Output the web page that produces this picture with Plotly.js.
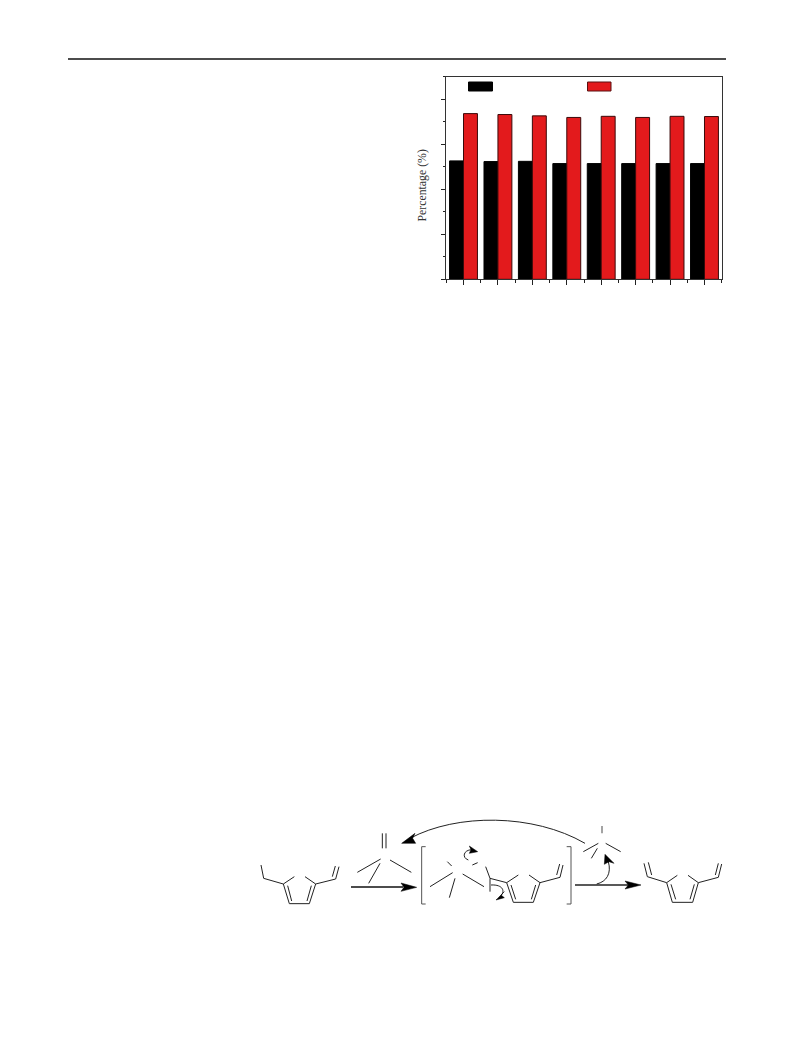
<!DOCTYPE html>
<html>
<head>
<meta charset="utf-8">
<script src="https://cdn.plot.ly/plotly-3.0.1.min.js"></script>
<style>html,body{margin:0;padding:0;background:#fff}</style>
</head>
<body>
<div id="chart" style="width:793px;height:1053px"></div>
<script>
const categories = [1, 2, 3, 4, 5, 6, 7, 8];
const blackValues = [52.6, 52.3, 52.4, 51.4, 51.4, 51.4, 51.4, 51.4];
const redValues = [73.6, 73.2, 72.6, 71.9, 72.4, 71.9, 72.4, 72.3];
const minorCategoryTicks = [0.5, 1.5, 2.5, 3.5, 4.5, 5.5, 6.5, 7.5, 8.5];
const yAxisLabel = 'Percentage (%)';

const W = 793, H = 1053;
const fx = px => px / W, fy = py => 1 - py / H;
const shapes = [];
function poly(points, o) {
  o = o || {};
  const d = points.map((p, i) => (i ? 'L' : 'M') + fx(p[0]) + ',' + fy(p[1])).join(' ') + (o.fill ? ' Z' : '');
  shapes.push({type:'path', xref:'paper', yref:'paper', path:d, line:{color:o.color||'#222', width:o.w||1},
    fillcolor:o.fill||'rgba(0,0,0,0)', layer:'above'});
}
function curve(p0, c1, c2, p1, o) {
  o = o || {};
  const s = p => fx(p[0]) + ',' + fy(p[1]);
  shapes.push({type:'path', xref:'paper', yref:'paper', path:'M' + s(p0) + ' C' + s(c1) + ' ' + s(c2) + ' ' + s(p1),
    line:{color:o.color||'#222', width:o.w||1}, fillcolor:'rgba(0,0,0,0)', layer:'above'});
}
function group(ox, oy, fn) {
  const z = p => [ox + p[0] / 3, oy + p[1] / 3];
  fn(
    (pts, o) => poly(pts.map(z), o),
    (a, b, c, d, o) => curve(z(a), z(b), z(c), z(d), o)
  );
}

// page rule
poly([[68, 59], [726, 59]], {w:1.3, color:'#111'});

// legend swatches
poly([[468.5, 82], [492.5, 82], [492.5, 91], [468.5, 91]], {fill:'#000', color:'#000'});
poly([[587.5, 82], [611, 82], [611, 91], [587.5, 91]], {fill:'#e31a1c', color:'#5a1010'});

// scheme: starting molecule, reagent, first arrow
group(250, 820, (l) => {
  l([[33,135],[41,175],[100,192]]);
  l([[133,170],[100,192],[118,251],[178,251],[197,192],[165,170]]);
  l([[113,197],[125,243]]);
  l([[184,197],[171,243]]);
  l([[197,192],[257,177],[267,140]]);
  l([[247,170],[256,138]]);
  l([[397,40],[397,85]]);
  l([[408,40],[408,85]]);
  l([[392,117],[322,157]]);
  l([[420,120],[484,157]]);
  l([[390,130],[356,190]]);
  l([[303,201],[460,201]], {w:1.6, color:'#111'});
  l([[453,189],[500,202],[453,214],[462,202]], {fill:'#000', color:'#000', w:0.5});
});

// scheme: long return arc
group(240, 810, (l, c) => {
  c([1035,100],[880,10],[650,10],[510,85]);
  l([[485,100],[525,70],[518,85],[527,100]], {fill:'#000', color:'#000', w:0.5});
});

// scheme: bracketed intermediate
group(415, 835, (l, c) => {
  l([[32,35],[20,35],[20,207],[32,207]], {color:'#555', w:1});
  l([[455,35],[468,35],[468,207],[455,207]], {color:'#555', w:1});
  l([[97,80],[110,93]]);
  l([[113,113],[45,155]]);
  l([[143,117],[207,155]]);
  l([[120,130],[103,188]]);
  l([[172,90],[188,83]]);
  c([160,75],[140,68],[145,45],[170,44]);
  l([[188,50],[163,33],[168,44],[163,55]], {fill:'#000', color:'#000', w:0.5});
  l([[212,95],[225,130],[275,143]]);
  l([[225,130],[225,170]]);
  c([228,150],[265,148],[272,170],[255,185]);
  l([[243,195],[268,170],[258,180],[268,188]], {fill:'#000', color:'#000', w:0.5});
  l([[310,120],[275,143],[295,202],[355,202],[375,143],[342,120]]);
  l([[288,150],[302,193]]);
  l([[362,150],[349,193]]);
  l([[375,143],[435,127],[444,90]]);
  l([[425,120],[434,87]]);
});

// scheme: second arrow, leaving group, product
group(570, 820, (l, c) => {
  l([[15,195],[175,195]], {w:1.6, color:'#222'});
  l([[165,183],[213,195],[165,207],[175,195]], {fill:'#000', color:'#000', w:0.5});
  c([80,192],[110,185],[125,160],[115,125]);
  l([[105,103],[132,130],[117,125],[103,133]], {fill:'#000', color:'#000', w:0.5});
  l([[96,18],[96,40]], {color:'#666', w:1.2});
  l([[85,70],[40,95]]);
  l([[107,70],[152,95]]);
  l([[82,85],[64,115]]);
  l([[222,130],[232,170],[290,188]]);
  l([[235,127],[245,165]]);
  l([[322,166],[290,188],[307,247],[368,247],[385,188],[354,166]]);
  l([[303,193],[317,238]]);
  l([[373,193],[360,238]]);
  l([[385,188],[445,172],[455,132]]);
  l([[436,165],[445,130]]);
});

const traces = [
  {type:'bar', x:categories, y:blackValues, marker:{color:'#000', line:{color:'#000', width:1}}, showlegend:false, hoverinfo:'skip'},
  {type:'bar', x:categories, y:redValues, marker:{color:'#e31a1c', line:{color:'#3a0a0a', width:1}}, showlegend:false, hoverinfo:'skip'}
];

const layout = {
  width:W, height:H, margin:{l:0, r:0, t:0, b:0, pad:0}, paper_bgcolor:'#fff', plot_bgcolor:'#fff',
  showlegend:false, barmode:'group', bargap:0.19, bargroupgap:0,
  font:{family:'"Liberation Serif", serif', color:'#222'},
  xaxis:{domain:[fx(446.3), fx(721.7)], range:[0.5, 8.5], tickmode:'array', tickvals:categories, showticklabels:false,
    ticks:'outside', ticklen:5, tickwidth:1, tickcolor:'#222', showgrid:false, zeroline:false,
    showline:true, linecolor:'#333', linewidth:1, mirror:true,
    minor:{tickmode:'array', tickvals:minorCategoryTicks, ticks:'outside', ticklen:3, tickwidth:1, tickcolor:'#222', showgrid:false}},
  yaxis:{domain:[fy(279.3), fy(76.7)], range:[0, 90], tick0:0, dtick:20, showticklabels:false,
    ticks:'outside', ticklen:4, tickwidth:1, tickcolor:'#222', showgrid:false, zeroline:false,
    showline:true, linecolor:'#333', linewidth:1, mirror:true,
    minor:{dtick:10, ticks:'outside', ticklen:2.5, tickwidth:1, tickcolor:'#222', showgrid:false}},
  annotations:[{text:yAxisLabel, xref:'paper', yref:'paper', x:fx(421), y:fy(185.5), xanchor:'center', yanchor:'middle',
    textangle:-90, showarrow:false, font:{size:11.8, family:'"Liberation Serif", serif', color:'#333'}}],
  shapes:shapes
};
Plotly.newPlot('chart', traces, layout, {displayModeBar:false, staticPlot:true});
</script>
</body>
</html>
